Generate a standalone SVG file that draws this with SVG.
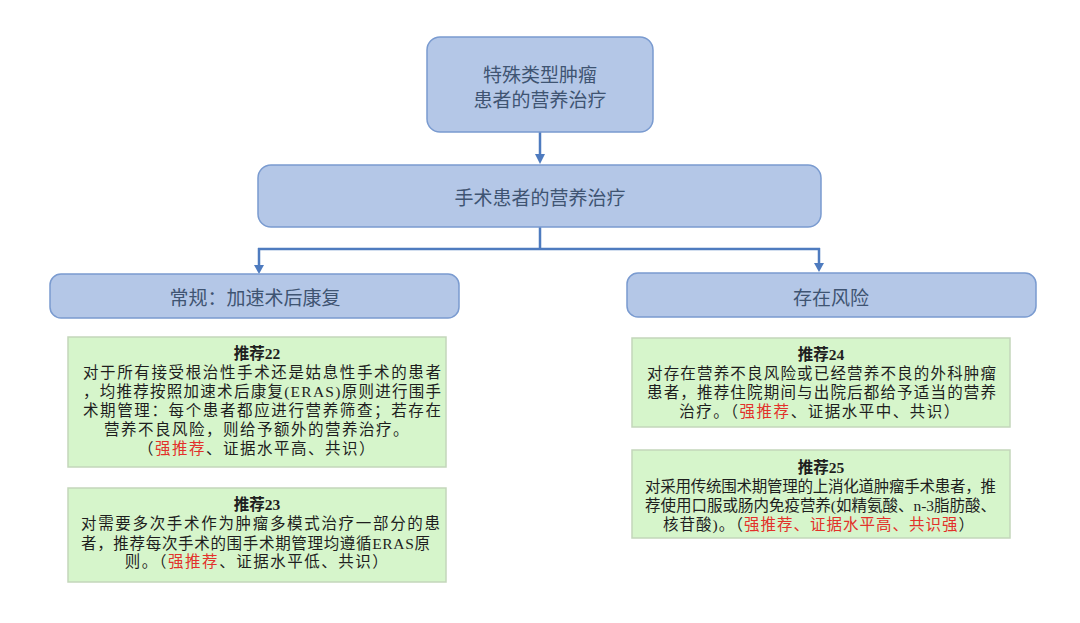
<svg xmlns="http://www.w3.org/2000/svg" width="1080" height="623" viewBox="0 0 1080 623">
<style>
.mb{fill:#b4c7e7;stroke:#7a9bd0;stroke-width:1.5}
.gb{fill:#d6f5cb;stroke:#c3d6bb;stroke-width:1.5}
.mt{font-family:"Noto Sans CJK SC",sans-serif;font-size:19px;fill:#3f5472;text-anchor:middle}
.gt{font-family:"Liberation Serif","Noto Sans CJK SC",serif;font-size:15.5px;fill:#1e1e1e}
.c{text-anchor:middle}
.h{font-weight:bold;text-anchor:middle}
.r{fill:#e2312a}
.cn{fill:none;stroke:#4e7bbf;stroke-width:2.5}
.ah{fill:#4e7bbf}
</style>
<g id="connectors">
<path class="cn" d="M540,131 V156"/>
<path class="ah" d="M535,154 L545,154 L540,164 z"/>
<path class="cn" d="M540,227 V249 M258,249 H820 M259,248 V266 M819,248 V264"/>
<path class="ah" d="M254,265 L264,265 L259,274 z"/>
<path class="ah" d="M814,263 L824,263 L819,272 z"/>
</g>
<g id="n1">
<rect class="mb" x="427" y="37" width="226" height="95" rx="13"/>
<text class="mt" x="540" y="82">特殊类型肿瘤</text>
<text class="mt" x="540" y="107">患者的营养治疗</text>
</g>
<g id="n2">
<rect class="mb" x="258" y="165" width="563" height="62" rx="13"/>
<text class="mt" x="540" y="205">手术患者的营养治疗</text>
</g>
<g id="n3">
<rect class="mb" x="50" y="274" width="409" height="44" rx="11"/>
<text class="mt" x="255" y="305">常规：加速术后康复</text>
</g>
<g id="n4">
<rect class="mb" x="627" y="273" width="409" height="44" rx="11"/>
<text class="mt" x="831" y="305">存在风险</text>
</g>
<g id="r22">
<rect class="gb" x="68" y="337" width="378" height="130"/>
<text class="gt h" x="257" y="359">推荐22</text>
<text class="gt" x="83" y="378" textLength="358" lengthAdjust="spacing">对于所有接受根治性手术还是姑息性手术的患者</text>
<text class="gt" x="83" y="397" textLength="358" lengthAdjust="spacing">，均推荐按照加速术后康复(ERAS)原则进行围手</text>
<text class="gt" x="83" y="416" textLength="358" lengthAdjust="spacing">术期管理：每个患者都应进行营养筛查；若存在</text>
<text class="gt c" x="257" y="435" letter-spacing="1.5">营养不良风险，则给予额外的营养治疗。</text>
<text class="gt c" x="257" y="454" letter-spacing="1.5">（<tspan class="r">强推荐</tspan>、证据水平高、共识）</text>
</g>
<g id="r23">
<rect class="gb" x="68" y="488" width="378" height="94"/>
<text class="gt h" x="257" y="510">推荐23</text>
<text class="gt" x="81" y="529" textLength="359" lengthAdjust="spacing">对需要多次手术作为肿瘤多模式治疗一部分的患</text>
<text class="gt" x="81" y="549" textLength="349" lengthAdjust="spacing">者，推荐每次手术的围手术期管理均遵循ERAS原</text>
<text class="gt c" x="257" y="567" letter-spacing="1.5">则。（<tspan class="r">强推荐</tspan>、证据水平低、共识）</text>
</g>
<g id="r24">
<rect class="gb" x="632" y="338" width="378" height="89"/>
<text class="gt h" x="821" y="360">推荐24</text>
<text class="gt" x="647" y="379" textLength="349" lengthAdjust="spacing">对存在营养不良风险或已经营养不良的外科肿瘤</text>
<text class="gt" x="647" y="398" textLength="349" lengthAdjust="spacing">患者，推荐住院期间与出院后都给予适当的营养</text>
<text class="gt c" x="820" y="417" letter-spacing="1.5">治疗。（<tspan class="r">强推荐</tspan>、证据水平中、共识）</text>
</g>
<g id="r25">
<rect class="gb" x="632" y="450" width="378" height="88"/>
<text class="gt h" x="821" y="473">推荐25</text>
<text class="gt" x="645" y="492" textLength="351" lengthAdjust="spacing">对采用传统围术期管理的上消化道肿瘤手术患者，推</text>
<text class="gt" x="645" y="511" textLength="351" lengthAdjust="spacing">荐使用口服或肠内免疫营养(如精氨酸、n-3脂肪酸、</text>
<text class="gt c" x="819" y="530" letter-spacing="1">核苷酸)。（<tspan class="r">强推荐、证据水平高、共识强</tspan>）</text>
</g>
</svg>
